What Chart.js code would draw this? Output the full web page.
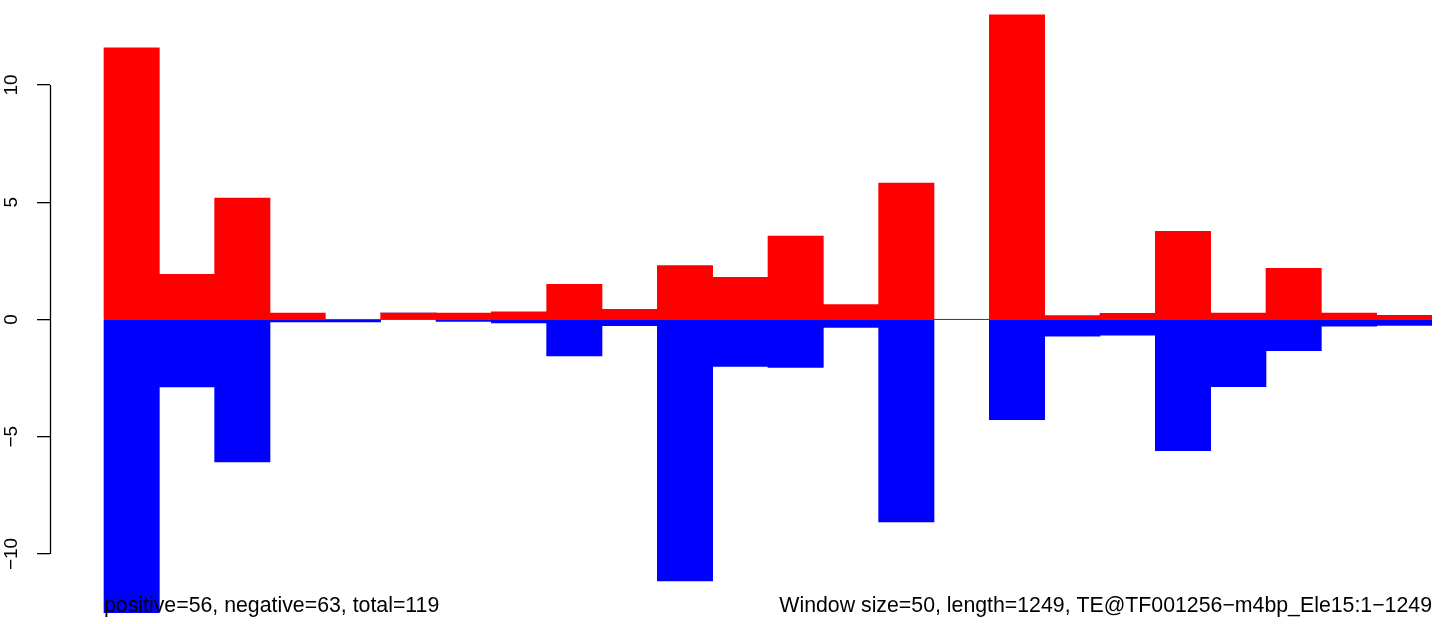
<!DOCTYPE html>
<html>
<head>
<meta charset="utf-8">
<script src="https://cdn.jsdelivr.net/npm/chart.js@4"></script>
<style>
	html, body { margin: 0; padding: 0; background: #fff; }
	#wrap { width: 1444px; height: 624px; }
</style>
</head>
<body>
<div id="wrap"><canvas id="myChart" width="1444" height="624"></canvas></div>
<script>
// window index (1..24), one bar per 50bp window
var windows = [1, 2, 3, 4, 5, 6, 7, 8, 9, 10, 11, 12, 13, 14, 15, 16, 17, 18, 19, 20, 21, 22, 23, 24];
var positive = [11.58, 1.92, 5.17, 0.27, 0, 0.27, 0.27, 0.32, 1.5, 0.43, 2.3, 1.8, 3.55, 0.63, 5.81, 0, 12.99, 0.17, 0.26, 3.76, 0.27, 2.18, 0.27, 0.18];
var negative = [-12.5, -2.88, -6.07, -0.1, -0.1, 0, -0.08, -0.15, -1.55, -0.26, -11.15, -2.0, -2.05, -0.34, -8.63, 0, -4.27, -0.71, -0.67, -5.6, -2.87, -1.33, -0.29, -0.25];
var yTicks = [-10, -5, 0, 5, 10];
var leftNote = 'positive=56, negative=63, total=119';
var rightNote = 'Window size=50, length=1249, TE@TF001256\u2212m4bp_Ele15:1\u22121249';

var FONT = '"Liberation Sans", Arial, Helvetica, sans-serif';

function toPoints(vals) {
	return windows.map(function (w, i) { return { x: w, y: vals[i] }; });
}

// R style axis line, rotated tick labels, zero line and margin notes
var rDecor = {
	id: 'rDecor',
	beforeDatasetsDraw: function (chart) {
		var ctx = chart.ctx, xs = chart.scales.x, ys = chart.scales.y;
		var y0 = ys.getPixelForValue(0);
		ctx.save();
		ctx.strokeStyle = '#555555';
		ctx.lineWidth = 1;
		ctx.beginPath();
		ctx.moveTo(xs.getPixelForValue(windows[0] - 0.5), y0);
		ctx.lineTo(xs.getPixelForValue(windows[windows.length - 1] + 0.5), y0);
		ctx.stroke();
		ctx.restore();
	},
	afterDraw: function (chart) {
		var ctx = chart.ctx, xs = chart.scales.x, ys = chart.scales.y;
		var ax = Math.round(chart.chartArea.left) + 0.5;
		ctx.save();
		ctx.strokeStyle = '#000';
		ctx.lineWidth = 1.3;
		ctx.beginPath();
		ctx.moveTo(ax, ys.getPixelForValue(yTicks[yTicks.length - 1]));
		ctx.lineTo(ax, ys.getPixelForValue(yTicks[0]));
		ctx.stroke();

		ctx.fillStyle = '#000';
		ctx.font = '19px ' + FONT;
		ctx.textAlign = 'center';
		ctx.textBaseline = 'middle';
		yTicks.forEach(function (v) {
			ctx.save();
			ctx.translate(12, ys.getPixelForValue(v));
			ctx.rotate(-Math.PI / 2);
			ctx.fillText(v < 0 ? '\u2212' + Math.abs(v) : String(v), 0, 0);
			ctx.restore();
		});

		ctx.font = '21.3px ' + FONT;
		ctx.textBaseline = 'alphabetic';
		ctx.textAlign = 'left';
		ctx.fillText(leftNote, xs.getPixelForValue(windows[0] - 0.5), 612);
		ctx.textAlign = 'right';
		ctx.fillText(rightNote, xs.getPixelForValue(windows[windows.length - 1] + 0.5), 612);
		ctx.restore();
	}
};

var ctx = document.getElementById('myChart').getContext('2d');
new Chart(ctx, {
	type: 'bar',
	data: {
		datasets: [{
			label: 'positive',
			data: toPoints(positive),
			backgroundColor: '#FF0000',
			borderWidth: 0,
			barPercentage: 1,
			categoryPercentage: 1,
		}, {
			label: 'negative',
			data: toPoints(negative),
			backgroundColor: '#0000FF',
			borderWidth: 0,
			barPercentage: 1,
			categoryPercentage: 1,
		}],
	},
	options: {
		responsive: false,
		animation: false,
		events: [],
		layout: {
			padding: { top: 8, bottom: 2, right: 12, left: 0 }
		},
		plugins: {
			legend: { display: false },
			tooltip: { enabled: false },
			title: { display: false }
		},
		scales: {
			x: {
				type: 'linear',
				display: false,
				stacked: true,
				offset: false,
				min: -0.476,
				max: 24.5
			},
			y: {
				stacked: true,
				min: -12.9,
				max: 13.28,
				afterFit: function (scale) { scale.width = 50; },
				afterBuildTicks: function (scale) {
					scale.ticks = yTicks.map(function (v) { return { value: v }; });
				},
				border: { display: false },
				grid: {
					drawOnChartArea: false,
					drawTicks: true,
					tickLength: 13,
					color: '#000',
					lineWidth: 1.3
				},
				ticks: { display: false }
			}
		}
	},
	plugins: [rDecor]
});
</script>
</body>
</html>
